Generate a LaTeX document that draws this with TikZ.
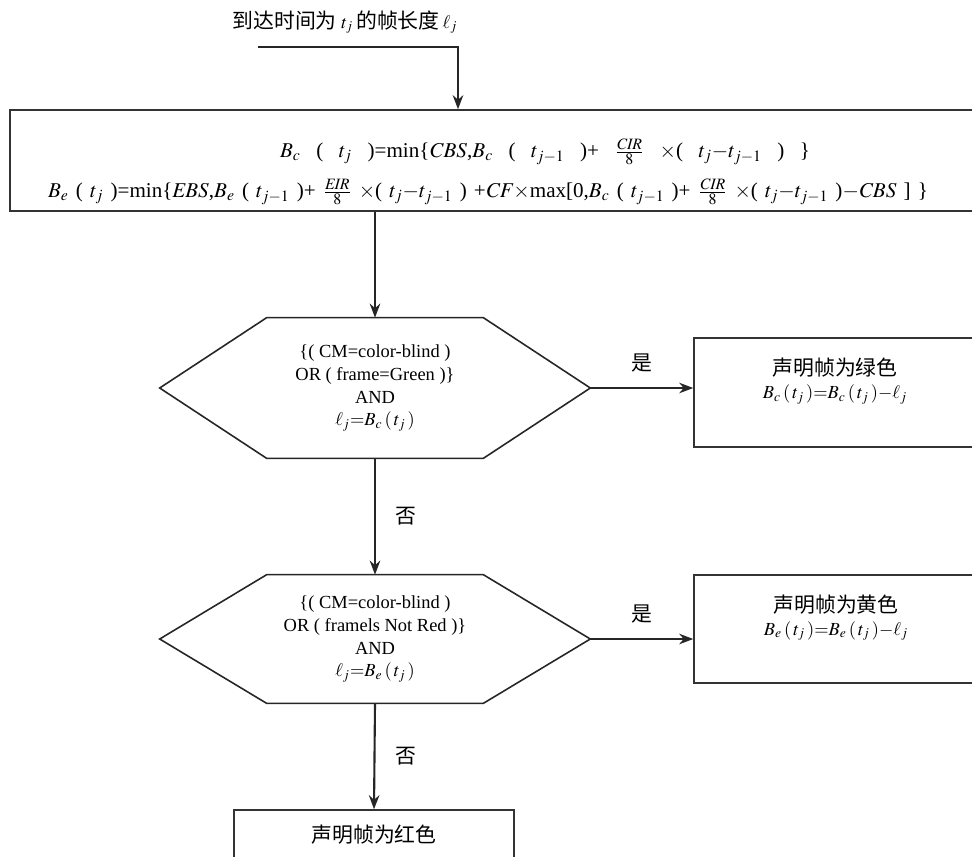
\documentclass[tikz,border=0pt]{standalone}
\usepackage{mathptmx}
\usepackage{fontspec}
\setmainfont{Liberation Serif}
\newfontfamily\cjk[Scale=1.13]{Noto Sans CJK SC}
\usepackage{tikz}
\usetikzlibrary{arrows.meta}
\usetikzlibrary{shapes,positioning}
\tikzset{flow-line/.style={line width=1.2pt, draw=black!85}}
\tikzset{>={Stealth[length=8pt,width=6pt]}}
\tikzset{flow-box/.style={draw=black!80, line width=0.9pt, inner sep=0, align=center}}
\tikzset{flow-cond/.style={inner sep=0, align=center, minimum width=8.6cm}}
\tikzset{flow-hex/.style={draw=black!85, line width=0.9pt}}
\tikzset{flow-formula/.style={inner sep=0, font=\fontsize{12}{14}\selectfont}}

\begin{document}
\begin{tikzpicture}[x=0.02cm, y=-0.02cm, font=\fontsize{10.5}{13}\selectfont]
            \useasboundingbox (0,0) rectangle (972,856);
            \clip (0,0) rectangle (972,856);

            \node (inLabel) at (345,22) {{\cjk 到达时间为} $t_j$\,{\cjk 的帧长度}\,$\ell_j$};
            \coordinate (inStart) at (258,47);
            \coordinate (inBend) at (458,47);

            % formulas of the two buckets
            \node[flow-box, minimum width=19.4cm, minimum height=2.02cm] (calcBox) at (495,160.5) {};
            \node[flow-formula] (calcC) at (545,152) {\makebox[10.6cm][s]{$B_c$ ( $t_j$ )=min\{$\mathit{CBS}$,$B_c$ ( $t_{j-1}$ )+ $\frac{\mathit{CIR}}{8}$ $\times$( $t_j$$-$$t_{j-1}$ ) \}}};
            \node[flow-formula] (calcE) at (488,192) {\makebox[17.6cm][s]{$B_e$ ( $t_j$ )=min\{$\mathit{EBS}$,$B_e$ ( $t_{j-1}$ )+ $\frac{\mathit{EIR}}{8}$ $\times$( $t_j$$-$$t_{j-1}$ ) +$\mathit{CF}$$\times$max[0,$B_c$ ( $t_{j-1}$ )+ $\frac{\mathit{CIR}}{8}$ $\times$( $t_j$$-$$t_{j-1}$ )$-$$\mathit{CBS}$ ] \}}};

            \node[flow-cond, minimum height=2.8cm] (condG) at (375,388) {\{( CM=color-blind )\\OR ( frame=Green )\}\\AND\\$\ell_j{=}B_c\,(\,t_j\,)$};
            \draw[flow-hex] ([xshift=2.14cm]condG.north west) -- ([xshift=-2.14cm]condG.north east) -- (condG.east)
                -- ([xshift=-2.14cm]condG.south east) -- ([xshift=2.14cm]condG.south west) -- (condG.west) -- cycle;

            \node[flow-cond, minimum height=2.56cm] (condY) at (375,639) {\{( CM=color-blind )\\OR ( framels Not Red )\}\\AND\\$\ell_j{=}B_e\,(\,t_j\,)$};
            \draw[flow-hex] ([xshift=2.14cm]condY.north west) -- ([xshift=-2.14cm]condY.north east) -- (condY.east)
                -- ([xshift=-2.14cm]condY.south east) -- ([xshift=2.14cm]condY.south west) -- (condY.west) -- cycle;

            \node[flow-box, minimum width=5.64cm, minimum height=2.18cm] (greenBox) at (835,392.5) {{\cjk 声明帧为绿色}\\$B_c\,(\,t_j\,){=}B_c\,(\,t_j\,){-}\ell_j$\\[3pt]};
            \node[flow-box, minimum width=5.68cm, minimum height=2.16cm] (yellowBox) at (836,629) {{\cjk 声明帧为黄色}\\$B_e\,(\,t_j\,){=}B_e\,(\,t_j\,){-}\ell_j$\\[3pt]};
            \node[flow-box, minimum width=5.6cm, minimum height=1cm] (redBox) at (374,835) {\cjk 声明帧为红色};

            \draw[flow-line, ->] (inStart) -- (inBend) -- (inBend |- calcBox.north);
            \draw[flow-line, ->] (calcBox.south -| condG.north) -- (condG.north);

            \draw[flow-line, ->] (condG.east) -- (condG.east -| greenBox.west) node[midway, above=5pt] {\cjk 是};
            \draw[flow-line, ->] (condG.south) -- (condY.north) node[midway, right=8pt] {\cjk 否};

            \draw[flow-line, ->] (condY.east) -- (condY.east -| yellowBox.west) node[midway, above=5pt] {\cjk 是};
            \draw[flow-line, ->] (condY.south) -- (redBox.north) node[midway, right=8pt] {\cjk 否};

        \end{tikzpicture}
\end{document}
